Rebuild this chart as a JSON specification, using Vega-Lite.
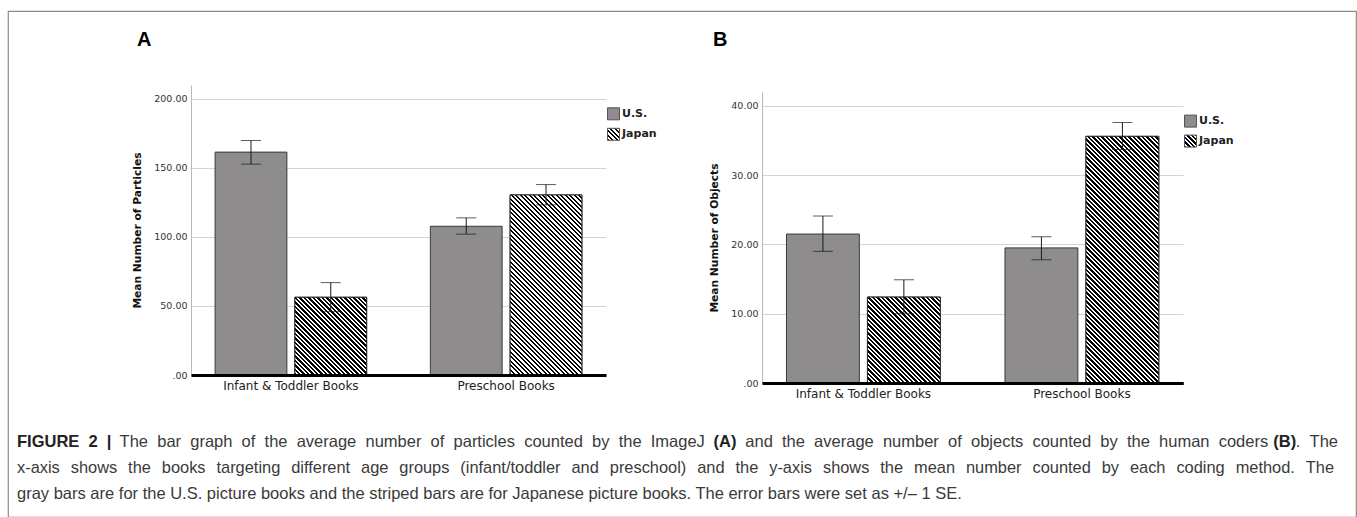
{
"$schema":"https://vega.github.io/schema/vega-lite/v6.json",
"background":"white",
"autosize":{"type":"none"},
"padding":{"left":8,"top":11,"right":1,"bottom":0},
"width":1348,"height":506,
"view":{"stroke":"#8c8c8c","strokeWidth":1.2},
"config":{"font":"DejaVu Sans","axis":{"labelFont":"DejaVu Sans","titleFont":"DejaVu Sans"},"legend":{"labelFont":"DejaVu Sans"}},
"params":[{"name":"hatch","value":[
{"offset":0,"color":"#000"},{"offset":0.00625,"color":"#000"},{"offset":0.00625,"color":"#fff"},{"offset":0.0125,"color":"#fff"},
{"offset":0.0125,"color":"#000"},{"offset":0.01875,"color":"#000"},{"offset":0.01875,"color":"#fff"},{"offset":0.025,"color":"#fff"},
{"offset":0.025,"color":"#000"},{"offset":0.03125,"color":"#000"},{"offset":0.03125,"color":"#fff"},{"offset":0.0375,"color":"#fff"},
{"offset":0.0375,"color":"#000"},{"offset":0.04375,"color":"#000"},{"offset":0.04375,"color":"#fff"},{"offset":0.05,"color":"#fff"},
{"offset":0.05,"color":"#000"},{"offset":0.05625,"color":"#000"},{"offset":0.05625,"color":"#fff"},{"offset":0.0625,"color":"#fff"},
{"offset":0.0625,"color":"#000"},{"offset":0.06875,"color":"#000"},{"offset":0.06875,"color":"#fff"},{"offset":0.075,"color":"#fff"},
{"offset":0.075,"color":"#000"},{"offset":0.08125,"color":"#000"},{"offset":0.08125,"color":"#fff"},{"offset":0.0875,"color":"#fff"},
{"offset":0.0875,"color":"#000"},{"offset":0.09375,"color":"#000"},{"offset":0.09375,"color":"#fff"},{"offset":0.1,"color":"#fff"},
{"offset":0.1,"color":"#000"},{"offset":0.10625,"color":"#000"},{"offset":0.10625,"color":"#fff"},{"offset":0.1125,"color":"#fff"},
{"offset":0.1125,"color":"#000"},{"offset":0.11875,"color":"#000"},{"offset":0.11875,"color":"#fff"},{"offset":0.125,"color":"#fff"},
{"offset":0.125,"color":"#000"},{"offset":0.13125,"color":"#000"},{"offset":0.13125,"color":"#fff"},{"offset":0.1375,"color":"#fff"},
{"offset":0.1375,"color":"#000"},{"offset":0.14375,"color":"#000"},{"offset":0.14375,"color":"#fff"},{"offset":0.15,"color":"#fff"},
{"offset":0.15,"color":"#000"},{"offset":0.15625,"color":"#000"},{"offset":0.15625,"color":"#fff"},{"offset":0.1625,"color":"#fff"},
{"offset":0.1625,"color":"#000"},{"offset":0.16875,"color":"#000"},{"offset":0.16875,"color":"#fff"},{"offset":0.175,"color":"#fff"},
{"offset":0.175,"color":"#000"},{"offset":0.18125,"color":"#000"},{"offset":0.18125,"color":"#fff"},{"offset":0.1875,"color":"#fff"},
{"offset":0.1875,"color":"#000"},{"offset":0.19375,"color":"#000"},{"offset":0.19375,"color":"#fff"},{"offset":0.2,"color":"#fff"},
{"offset":0.2,"color":"#000"},{"offset":0.20625,"color":"#000"},{"offset":0.20625,"color":"#fff"},{"offset":0.2125,"color":"#fff"},
{"offset":0.2125,"color":"#000"},{"offset":0.21875,"color":"#000"},{"offset":0.21875,"color":"#fff"},{"offset":0.225,"color":"#fff"},
{"offset":0.225,"color":"#000"},{"offset":0.23125,"color":"#000"},{"offset":0.23125,"color":"#fff"},{"offset":0.2375,"color":"#fff"},
{"offset":0.2375,"color":"#000"},{"offset":0.24375,"color":"#000"},{"offset":0.24375,"color":"#fff"},{"offset":0.25,"color":"#fff"},
{"offset":0.25,"color":"#000"},{"offset":0.25625,"color":"#000"},{"offset":0.25625,"color":"#fff"},{"offset":0.2625,"color":"#fff"},
{"offset":0.2625,"color":"#000"},{"offset":0.26875,"color":"#000"},{"offset":0.26875,"color":"#fff"},{"offset":0.275,"color":"#fff"},
{"offset":0.275,"color":"#000"},{"offset":0.28125,"color":"#000"},{"offset":0.28125,"color":"#fff"},{"offset":0.2875,"color":"#fff"},
{"offset":0.2875,"color":"#000"},{"offset":0.29375,"color":"#000"},{"offset":0.29375,"color":"#fff"},{"offset":0.3,"color":"#fff"},
{"offset":0.3,"color":"#000"},{"offset":0.30625,"color":"#000"},{"offset":0.30625,"color":"#fff"},{"offset":0.3125,"color":"#fff"},
{"offset":0.3125,"color":"#000"},{"offset":0.31875,"color":"#000"},{"offset":0.31875,"color":"#fff"},{"offset":0.325,"color":"#fff"},
{"offset":0.325,"color":"#000"},{"offset":0.33125,"color":"#000"},{"offset":0.33125,"color":"#fff"},{"offset":0.3375,"color":"#fff"},
{"offset":0.3375,"color":"#000"},{"offset":0.34375,"color":"#000"},{"offset":0.34375,"color":"#fff"},{"offset":0.35,"color":"#fff"},
{"offset":0.35,"color":"#000"},{"offset":0.35625,"color":"#000"},{"offset":0.35625,"color":"#fff"},{"offset":0.3625,"color":"#fff"},
{"offset":0.3625,"color":"#000"},{"offset":0.36875,"color":"#000"},{"offset":0.36875,"color":"#fff"},{"offset":0.375,"color":"#fff"},
{"offset":0.375,"color":"#000"},{"offset":0.38125,"color":"#000"},{"offset":0.38125,"color":"#fff"},{"offset":0.3875,"color":"#fff"},
{"offset":0.3875,"color":"#000"},{"offset":0.39375,"color":"#000"},{"offset":0.39375,"color":"#fff"},{"offset":0.4,"color":"#fff"},
{"offset":0.4,"color":"#000"},{"offset":0.40625,"color":"#000"},{"offset":0.40625,"color":"#fff"},{"offset":0.4125,"color":"#fff"},
{"offset":0.4125,"color":"#000"},{"offset":0.41875,"color":"#000"},{"offset":0.41875,"color":"#fff"},{"offset":0.425,"color":"#fff"},
{"offset":0.425,"color":"#000"},{"offset":0.43125,"color":"#000"},{"offset":0.43125,"color":"#fff"},{"offset":0.4375,"color":"#fff"},
{"offset":0.4375,"color":"#000"},{"offset":0.44375,"color":"#000"},{"offset":0.44375,"color":"#fff"},{"offset":0.45,"color":"#fff"},
{"offset":0.45,"color":"#000"},{"offset":0.45625,"color":"#000"},{"offset":0.45625,"color":"#fff"},{"offset":0.4625,"color":"#fff"},
{"offset":0.4625,"color":"#000"},{"offset":0.46875,"color":"#000"},{"offset":0.46875,"color":"#fff"},{"offset":0.475,"color":"#fff"},
{"offset":0.475,"color":"#000"},{"offset":0.48125,"color":"#000"},{"offset":0.48125,"color":"#fff"},{"offset":0.4875,"color":"#fff"},
{"offset":0.4875,"color":"#000"},{"offset":0.49375,"color":"#000"},{"offset":0.49375,"color":"#fff"},{"offset":0.5,"color":"#fff"},
{"offset":0.5,"color":"#000"},{"offset":0.50625,"color":"#000"},{"offset":0.50625,"color":"#fff"},{"offset":0.5125,"color":"#fff"},
{"offset":0.5125,"color":"#000"},{"offset":0.51875,"color":"#000"},{"offset":0.51875,"color":"#fff"},{"offset":0.525,"color":"#fff"},
{"offset":0.525,"color":"#000"},{"offset":0.53125,"color":"#000"},{"offset":0.53125,"color":"#fff"},{"offset":0.5375,"color":"#fff"},
{"offset":0.5375,"color":"#000"},{"offset":0.54375,"color":"#000"},{"offset":0.54375,"color":"#fff"},{"offset":0.55,"color":"#fff"},
{"offset":0.55,"color":"#000"},{"offset":0.55625,"color":"#000"},{"offset":0.55625,"color":"#fff"},{"offset":0.5625,"color":"#fff"},
{"offset":0.5625,"color":"#000"},{"offset":0.56875,"color":"#000"},{"offset":0.56875,"color":"#fff"},{"offset":0.575,"color":"#fff"},
{"offset":0.575,"color":"#000"},{"offset":0.58125,"color":"#000"},{"offset":0.58125,"color":"#fff"},{"offset":0.5875,"color":"#fff"},
{"offset":0.5875,"color":"#000"},{"offset":0.59375,"color":"#000"},{"offset":0.59375,"color":"#fff"},{"offset":0.6,"color":"#fff"},
{"offset":0.6,"color":"#000"},{"offset":0.60625,"color":"#000"},{"offset":0.60625,"color":"#fff"},{"offset":0.6125,"color":"#fff"},
{"offset":0.6125,"color":"#000"},{"offset":0.61875,"color":"#000"},{"offset":0.61875,"color":"#fff"},{"offset":0.625,"color":"#fff"},
{"offset":0.625,"color":"#000"},{"offset":0.63125,"color":"#000"},{"offset":0.63125,"color":"#fff"},{"offset":0.6375,"color":"#fff"},
{"offset":0.6375,"color":"#000"},{"offset":0.64375,"color":"#000"},{"offset":0.64375,"color":"#fff"},{"offset":0.65,"color":"#fff"},
{"offset":0.65,"color":"#000"},{"offset":0.65625,"color":"#000"},{"offset":0.65625,"color":"#fff"},{"offset":0.6625,"color":"#fff"},
{"offset":0.6625,"color":"#000"},{"offset":0.66875,"color":"#000"},{"offset":0.66875,"color":"#fff"},{"offset":0.675,"color":"#fff"},
{"offset":0.675,"color":"#000"},{"offset":0.68125,"color":"#000"},{"offset":0.68125,"color":"#fff"},{"offset":0.6875,"color":"#fff"},
{"offset":0.6875,"color":"#000"},{"offset":0.69375,"color":"#000"},{"offset":0.69375,"color":"#fff"},{"offset":0.7,"color":"#fff"},
{"offset":0.7,"color":"#000"},{"offset":0.70625,"color":"#000"},{"offset":0.70625,"color":"#fff"},{"offset":0.7125,"color":"#fff"},
{"offset":0.7125,"color":"#000"},{"offset":0.71875,"color":"#000"},{"offset":0.71875,"color":"#fff"},{"offset":0.725,"color":"#fff"},
{"offset":0.725,"color":"#000"},{"offset":0.73125,"color":"#000"},{"offset":0.73125,"color":"#fff"},{"offset":0.7375,"color":"#fff"},
{"offset":0.7375,"color":"#000"},{"offset":0.74375,"color":"#000"},{"offset":0.74375,"color":"#fff"},{"offset":0.75,"color":"#fff"},
{"offset":0.75,"color":"#000"},{"offset":0.75625,"color":"#000"},{"offset":0.75625,"color":"#fff"},{"offset":0.7625,"color":"#fff"},
{"offset":0.7625,"color":"#000"},{"offset":0.76875,"color":"#000"},{"offset":0.76875,"color":"#fff"},{"offset":0.775,"color":"#fff"},
{"offset":0.775,"color":"#000"},{"offset":0.78125,"color":"#000"},{"offset":0.78125,"color":"#fff"},{"offset":0.7875,"color":"#fff"},
{"offset":0.7875,"color":"#000"},{"offset":0.79375,"color":"#000"},{"offset":0.79375,"color":"#fff"},{"offset":0.8,"color":"#fff"},
{"offset":0.8,"color":"#000"},{"offset":0.80625,"color":"#000"},{"offset":0.80625,"color":"#fff"},{"offset":0.8125,"color":"#fff"},
{"offset":0.8125,"color":"#000"},{"offset":0.81875,"color":"#000"},{"offset":0.81875,"color":"#fff"},{"offset":0.825,"color":"#fff"},
{"offset":0.825,"color":"#000"},{"offset":0.83125,"color":"#000"},{"offset":0.83125,"color":"#fff"},{"offset":0.8375,"color":"#fff"},
{"offset":0.8375,"color":"#000"},{"offset":0.84375,"color":"#000"},{"offset":0.84375,"color":"#fff"},{"offset":0.85,"color":"#fff"},
{"offset":0.85,"color":"#000"},{"offset":0.85625,"color":"#000"},{"offset":0.85625,"color":"#fff"},{"offset":0.8625,"color":"#fff"},
{"offset":0.8625,"color":"#000"},{"offset":0.86875,"color":"#000"},{"offset":0.86875,"color":"#fff"},{"offset":0.875,"color":"#fff"},
{"offset":0.875,"color":"#000"},{"offset":0.88125,"color":"#000"},{"offset":0.88125,"color":"#fff"},{"offset":0.8875,"color":"#fff"},
{"offset":0.8875,"color":"#000"},{"offset":0.89375,"color":"#000"},{"offset":0.89375,"color":"#fff"},{"offset":0.9,"color":"#fff"},
{"offset":0.9,"color":"#000"},{"offset":0.90625,"color":"#000"},{"offset":0.90625,"color":"#fff"},{"offset":0.9125,"color":"#fff"},
{"offset":0.9125,"color":"#000"},{"offset":0.91875,"color":"#000"},{"offset":0.91875,"color":"#fff"},{"offset":0.925,"color":"#fff"},
{"offset":0.925,"color":"#000"},{"offset":0.93125,"color":"#000"},{"offset":0.93125,"color":"#fff"},{"offset":0.9375,"color":"#fff"},
{"offset":0.9375,"color":"#000"},{"offset":0.94375,"color":"#000"},{"offset":0.94375,"color":"#fff"},{"offset":0.95,"color":"#fff"},
{"offset":0.95,"color":"#000"},{"offset":0.95625,"color":"#000"},{"offset":0.95625,"color":"#fff"},{"offset":0.9625,"color":"#fff"},
{"offset":0.9625,"color":"#000"},{"offset":0.96875,"color":"#000"},{"offset":0.96875,"color":"#fff"},{"offset":0.975,"color":"#fff"},
{"offset":0.975,"color":"#000"},{"offset":0.98125,"color":"#000"},{"offset":0.98125,"color":"#fff"},{"offset":0.9875,"color":"#fff"},
{"offset":0.9875,"color":"#000"},{"offset":0.99375,"color":"#000"},{"offset":0.99375,"color":"#fff"},{"offset":1,"color":"#fff"}
]}],
"resolve":{"scale":{"x":"independent","y":"independent","xOffset":"independent","fill":"independent"},"axis":{"x":"independent","y":"independent"},"legend":{"fill":"independent"}},
"layer":[
{
"data":{"values":[
{"seg":"A","text":"A"},
{"seg":"B","text":"B"},
{"seg":"1a","text":"FIGURE\u20072\u2007|"},
{"seg":"1b","text":"The\u2007bar\u2007graph\u2007of\u2007the\u2007average\u2007number\u2007of\u2007particles\u2007counted\u2007by\u2007the\u2007ImageJ"},
{"seg":"1c","text":"(A)"},
{"seg":"1d","text":"and\u2007the\u2007average\u2007number\u2007of\u2007objects\u2007counted\u2007by\u2007the\u2007human\u2007coders"},
{"seg":"1e","text":"(B)"},
{"seg":"1f","text":".\u2007The"},
{"seg":"2a","text":"x-axis\u2002\u2006shows\u2002\u2006the\u2002\u2006books\u2002\u2006targeting\u2002\u2006different\u2002\u2006age\u2002\u2006groups\u2002\u2006(infant/toddler\u2002\u2006and\u2002\u2006preschool)\u2002\u2006and\u2002\u2006the\u2002\u2006y-axis\u2002\u2006shows\u2002\u2006the\u2002\u2006mean\u2002\u2006number\u2002\u2006counted\u2002\u2006by\u2002\u2006each\u2002\u2006coding\u2002\u2006method.\u2002\u2006The"},
{"seg":"3a","text":"gray bars are for the U.S. picture books and the striped bars are for Japanese picture books. The error bars were set as +/\u2013 1 SE."}
]},
"layer":[
{"transform":[{"filter":"datum.seg=='A'"}],"mark":{"type":"text","align":"left","baseline":"middle","dx":-545,"dy":-224,"font":"Liberation Sans","fontSize":20,"fontWeight":"bold","fill":"#000"},"encoding":{"text":{"field":"text","type":"nominal"}}},
{"transform":[{"filter":"datum.seg=='B'"}],"mark":{"type":"text","align":"left","baseline":"middle","dx":31,"dy":-224,"font":"Liberation Sans","fontSize":20,"fontWeight":"bold","fill":"#000"},"encoding":{"text":{"field":"text","type":"nominal"}}},
{"transform":[{"filter":"datum.seg=='1a'"}],"mark":{"type":"text","align":"left","baseline":"middle","dx":-665,"dy":178,"font":"Liberation Sans","fontSize":16.5,"fontWeight":"bold","fill":"#222"},"encoding":{"text":{"field":"text","type":"nominal"}}},
{"transform":[{"filter":"datum.seg=='1b'"}],"mark":{"type":"text","align":"left","baseline":"middle","dx":-562.4,"dy":178,"font":"Liberation Sans","fontSize":16.5,"fill":"#3a3a3a"},"encoding":{"text":{"field":"text","type":"nominal"}}},
{"transform":[{"filter":"datum.seg=='1c'"}],"mark":{"type":"text","align":"left","baseline":"middle","dx":31.6,"dy":178,"font":"Liberation Sans","fontSize":16.5,"fontWeight":"bold","fill":"#222"},"encoding":{"text":{"field":"text","type":"nominal"}}},
{"transform":[{"filter":"datum.seg=='1d'"}],"mark":{"type":"text","align":"left","baseline":"middle","dx":63.3,"dy":178,"font":"Liberation Sans","fontSize":16.5,"fill":"#3a3a3a"},"encoding":{"text":{"field":"text","type":"nominal"}}},
{"transform":[{"filter":"datum.seg=='1e'"}],"mark":{"type":"text","align":"left","baseline":"middle","dx":591.3,"dy":178,"font":"Liberation Sans","fontSize":16.5,"fontWeight":"bold","fill":"#222"},"encoding":{"text":{"field":"text","type":"nominal"}}},
{"transform":[{"filter":"datum.seg=='1f'"}],"mark":{"type":"text","align":"right","baseline":"middle","dx":656,"dy":178,"font":"Liberation Sans","fontSize":16.5,"fill":"#3a3a3a"},"encoding":{"text":{"field":"text","type":"nominal"}}},
{"transform":[{"filter":"datum.seg=='2a'"}],"mark":{"type":"text","align":"left","baseline":"middle","dx":-665,"dy":204,"font":"Liberation Sans","fontSize":16.4,"fill":"#3a3a3a"},"encoding":{"text":{"field":"text","type":"nominal"}}},
{"transform":[{"filter":"datum.seg=='3a'"}],"mark":{"type":"text","align":"left","baseline":"middle","dx":-665,"dy":230,"font":"Liberation Sans","fontSize":16.5,"fill":"#3a3a3a"},"encoding":{"text":{"field":"text","type":"nominal"}}}
]
},
{
"data":{"values":[
{"Age":"Infant & Toddler Books","Country":"U.S.","Mean":161.4,"Lower":152.7,"Upper":169.8},
{"Age":"Infant & Toddler Books","Country":"Japan","Mean":56.3,"Lower":45.9,"Upper":66.9},
{"Age":"Preschool Books","Country":"U.S.","Mean":107.7,"Lower":102.0,"Upper":113.8},
{"Age":"Preschool Books","Country":"Japan","Mean":130.4,"Lower":123.2,"Upper":137.9}
]},
"encoding":{
"x":{"field":"Age","type":"nominal","scale":{"domain":["Infant & Toddler Books","Preschool Books"],"range":[183,598],"paddingInner":0.296,"paddingOuter":0.112},"axis":{"orient":"bottom","offset":-142,"title":null,"labelAngle":0,"ticks":false,"domainColor":"#000","domainWidth":3,"labelFontSize":12,"labelColor":"#222","labelPadding":5,"zindex":1}},
"xOffset":{"field":"Country","type":"nominal","scale":{"domain":["U.S.","Japan"],"paddingInner":0.1,"paddingOuter":0}}
},
"layer":[
{"mark":{"type":"bar","stroke":"#3a3a3a","strokeWidth":1},
 "encoding":{
  "y":{"field":"Mean","type":"quantitative","title":"Mean Number of Particles","scale":{"domain":[0,210],"range":[364,74],"nice":false},"axis":{"orient":"left","offset":-183,"values":[0,50,100,150,200],"labelExpr":"datum.value == 0 ? '.00' : format(datum.value, '.2f')","grid":true,"gridColor":"#d4d4d4","domainColor":"#b8b8b8","ticks":false,"labelPadding":4,"labelFontSize":9.5,"labelColor":"#333","titleFontSize":10.7,"titleFontWeight":"bold","titleColor":"#111","titlePadding":11,"zindex":0}},
  "fill":{"field":"Country","type":"nominal","scale":{"domain":["U.S.","Japan"],"range":["#8e8c8c",{"expr":"{gradient: 'linear', x1: 0, y1: 1, x2: 15, y2: -14, stops: hatch}"}]},"legend":{"title":null,"orient":"none","legendX":599,"legendY":96.3,"padding":0,"symbolType":"square","symbolSize":144,"symbolStrokeColor":"#555","symbolStrokeWidth":1,"labelFontSize":11,"labelFontWeight":"bold","labelColor":"#222","labelOffset":2,"rowPadding":3.5}}
 }},
{"transform":[{"filter":"datum.Country == 'Japan'"}],
 "mark":{"type":"bar","stroke":"#2a2a2a","strokeWidth":1,"fill":{"expr":"{gradient: 'linear', x1: 0, y1: 1, x2: 71.8 * 360 / (5155.2 + pow(datum.Mean * 1.38095, 2)), y2: 1 - datum.Mean * 1.38095 * 360 / (5155.2 + pow(datum.Mean * 1.38095, 2)), stops: hatch}"}},
 "encoding":{"y":{"field":"Mean","type":"quantitative","title":"Mean Number of Particles","scale":{"domain":[0,210],"range":[364,74],"nice":false}}}},
{"mark":{"type":"rule","color":"#1a1a1a","strokeWidth":1},
 "encoding":{"y":{"field":"Lower","type":"quantitative","title":"Mean Number of Particles","scale":{"domain":[0,210],"range":[364,74],"nice":false}},"y2":{"field":"Upper"}}},
{"mark":{"type":"tick","orient":"horizontal","size":20,"thickness":1,"color":"#1a1a1a"},
 "encoding":{"y":{"field":"Lower","type":"quantitative","title":"Mean Number of Particles","scale":{"domain":[0,210],"range":[364,74],"nice":false}}}},
{"mark":{"type":"tick","orient":"horizontal","size":20,"thickness":1,"color":"#1a1a1a"},
 "encoding":{"y":{"field":"Upper","type":"quantitative","title":"Mean Number of Particles","scale":{"domain":[0,210],"range":[364,74],"nice":false}}}}
]
},
{
"data":{"values":[
{"Age":"Infant & Toddler Books","Country":"U.S.","Mean":21.5,"Lower":19.0,"Upper":24.1},
{"Age":"Infant & Toddler Books","Country":"Japan","Mean":12.4,"Lower":10.0,"Upper":14.9},
{"Age":"Preschool Books","Country":"U.S.","Mean":19.5,"Lower":17.8,"Upper":21.1},
{"Age":"Preschool Books","Country":"Japan","Mean":35.6,"Lower":33.7,"Upper":37.6}
]},
"encoding":{
"x":{"field":"Age","type":"nominal","scale":{"domain":["Infant & Toddler Books","Preschool Books"],"range":[754,1175.3],"paddingInner":0.296,"paddingOuter":0.112},"axis":{"orient":"bottom","offset":-134,"title":null,"labelAngle":0,"ticks":false,"domainColor":"#000","domainWidth":3,"labelFontSize":12,"labelColor":"#222","labelPadding":5,"zindex":1}},
"xOffset":{"field":"Country","type":"nominal","scale":{"domain":["U.S.","Japan"],"paddingInner":0.1,"paddingOuter":0}}
},
"layer":[
{"mark":{"type":"bar","stroke":"#3a3a3a","strokeWidth":1},
 "encoding":{
  "y":{"field":"Mean","type":"quantitative","title":"Mean Number of Objects","scale":{"domain":[0,42],"range":[372,81],"nice":false},"axis":{"orient":"left","offset":-754,"values":[0,10,20,30,40],"labelExpr":"datum.value == 0 ? '.00' : format(datum.value, '.2f')","grid":true,"gridColor":"#d4d4d4","domainColor":"#b8b8b8","ticks":false,"labelPadding":4,"labelFontSize":9.5,"labelColor":"#333","titleFontSize":10.7,"titleFontWeight":"bold","titleColor":"#111","titlePadding":11,"zindex":0}},
  "fill":{"field":"Country","type":"nominal","scale":{"domain":["U.S.","Japan"],"range":["#8e8c8c",{"expr":"{gradient: 'linear', x1: 0, y1: 1, x2: 15, y2: -14, stops: hatch}"}]},"legend":{"title":null,"orient":"none","legendX":1176,"legendY":103.6,"padding":0,"symbolType":"square","symbolSize":144,"symbolStrokeColor":"#555","symbolStrokeWidth":1,"labelFontSize":11,"labelFontWeight":"bold","labelColor":"#222","labelOffset":2,"rowPadding":3}}
 }},
{"transform":[{"filter":"datum.Country == 'Japan'"}],
 "mark":{"type":"bar","stroke":"#2a2a2a","strokeWidth":1,"fill":{"expr":"{gradient: 'linear', x1: 0, y1: 1, x2: 72.9 * 360 / (5314.4 + pow(datum.Mean * 6.92857, 2)), y2: 1 - datum.Mean * 6.92857 * 360 / (5314.4 + pow(datum.Mean * 6.92857, 2)), stops: hatch}"}},
 "encoding":{"y":{"field":"Mean","type":"quantitative","title":"Mean Number of Objects","scale":{"domain":[0,42],"range":[372,81],"nice":false}}}},
{"mark":{"type":"rule","color":"#1a1a1a","strokeWidth":1},
 "encoding":{"y":{"field":"Lower","type":"quantitative","title":"Mean Number of Objects","scale":{"domain":[0,42],"range":[372,81],"nice":false}},"y2":{"field":"Upper"}}},
{"mark":{"type":"tick","orient":"horizontal","size":20,"thickness":1,"color":"#1a1a1a"},
 "encoding":{"y":{"field":"Lower","type":"quantitative","title":"Mean Number of Objects","scale":{"domain":[0,42],"range":[372,81],"nice":false}}}},
{"mark":{"type":"tick","orient":"horizontal","size":20,"thickness":1,"color":"#1a1a1a"},
 "encoding":{"y":{"field":"Upper","type":"quantitative","title":"Mean Number of Objects","scale":{"domain":[0,42],"range":[372,81],"nice":false}}}}
]
}
]
}
